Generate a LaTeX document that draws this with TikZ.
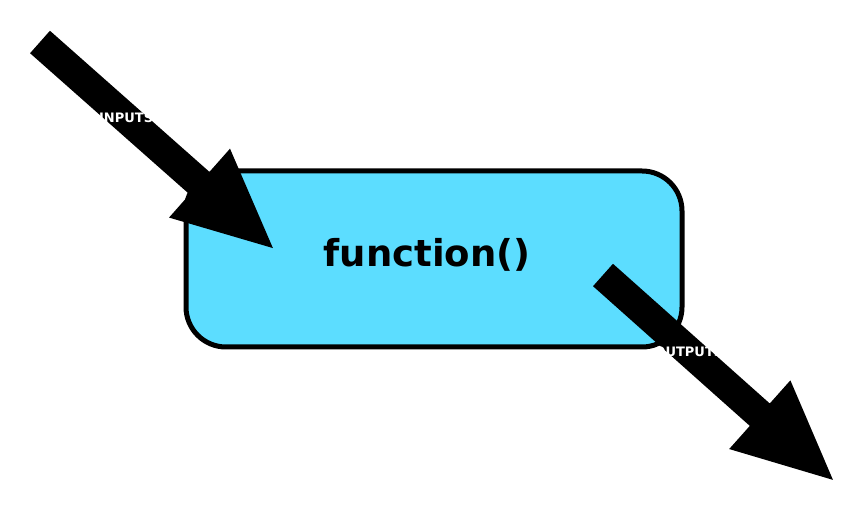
\documentclass[tikz,border=0pt]{standalone}
\usepackage{fontspec}
\setmainfont{DejaVu Sans}
\begin{document}
\begin{tikzpicture}[x=1pt,y=1pt,
  arrowshape/.style={fill=black},
  lbl/.style={text=white,font=\bfseries\fontsize{13}{13}\selectfont,inner sep=0}]
\useasboundingbox (0,0) rectangle (853,508);
\node[draw=black,line width=5,fill={rgb,255:red,92;green,221;blue,255},rounded corners=40,
  minimum width=496,minimum height=176,anchor=center] (fn) at (434,249) {};
\node[font=\bfseries\fontsize{37}{37}\selectfont] (ft) at (427,253) {function()};
\begin{scope}[shift={(40,466)},rotate=-41.5]
  \fill[arrowshape] (0,15) -- (213,15) -- (213,46) -- (311,0) -- (213,-46) -- (213,-15) -- (0,-15) -- cycle;
  \node[lbl] (in) at (115,0) {INPUTS};
\end{scope}
\begin{scope}[shift={(603,233)},rotate=-41.7]
  \fill[arrowshape] (0,15) -- (210,15) -- (210,46) -- (308,0) -- (210,-46) -- (210,-15) -- (0,-15) -- cycle;
  \node[lbl] (out) at (115,0) {OUTPUTS};
\end{scope}
\end{tikzpicture}
\end{document}
